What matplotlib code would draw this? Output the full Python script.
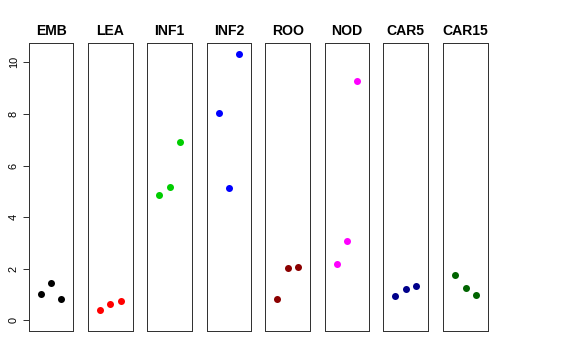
import numpy as np
import matplotlib.pyplot as plt

plt.rcParams['font.family'] = ['Liberation Sans', 'DejaVu Sans']

groups = ['EMB', 'LEA', 'INF1', 'INF2', 'ROO', 'NOD', 'CAR5', 'CAR15']
colors = ['black', 'red', '#00CD00', 'blue', '#8B0000', 'magenta', '#00008B', '#006400']
values = [
    [1.03, 1.43, 0.84],
    [0.41, 0.63, 0.76],
    [4.87, 5.17, 6.90],
    [8.02, 5.12, 10.33],
    [0.84, 2.02, 2.05],
    [2.19, 3.06, 9.26],
    [0.95, 1.22, 1.34],
    [1.77, 1.24, 0.97],
]
reps = [1, 2, 3]
yticks = [0, 2, 4, 6, 8, 10]

W, H = 576, 360
fig = plt.figure(figsize=(W / 72, H / 72), dpi=72)
lefts = [28.7, 88.0, 147.3, 206.7, 265.3, 324.7, 383.3, 443.3]
pw = 44.7
top, bot = 43, 331

for i, g in enumerate(groups):
    ax = fig.add_axes([lefts[i] / W, 1 - bot / H, pw / W, (bot - top) / H])
    ax.plot(reps, values[i], 'o', color=colors[i], markersize=7, markeredgewidth=0)
    ax.set_xlim(-0.16, 4.16)
    ax.set_ylim(-0.415, 10.75)
    ax.set_xticks([])
    for s in ax.spines.values():
        s.set_color('#333333')
        s.set_linewidth(1)
    ax.set_title(g, fontsize=14, fontweight='bold', pad=8)
    if i == 0:
        ax.set_yticks(yticks)
        ax.set_yticklabels([str(t) for t in yticks], rotation=90, va='center', fontsize=11)
        ax.tick_params(axis='y', length=6, width=0.8, pad=4)
    else:
        ax.set_yticks([])

fig.savefig('out.png', dpi=72)
